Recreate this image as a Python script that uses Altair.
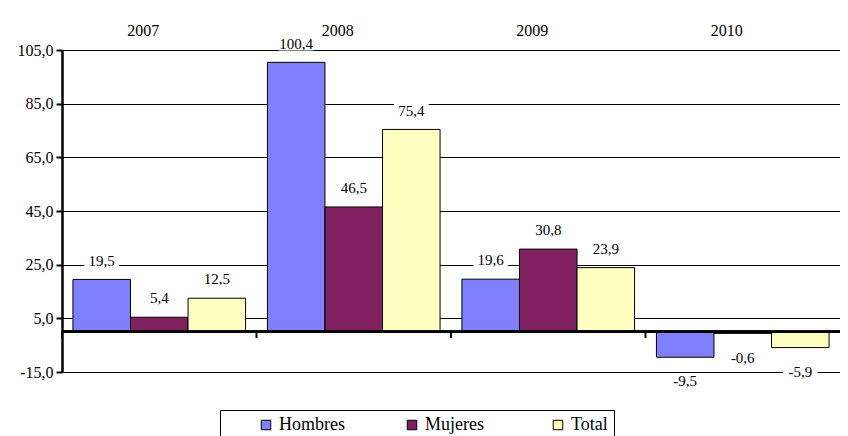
import altair as alt
import pandas as pd

years = ["2007", "2008", "2009", "2010"]
series = ["Hombres", "Mujeres", "Total"]
hombres = [19.5, 100.4, 19.6, -9.5]
mujeres = [5.4, 46.5, 30.8, -0.6]
total = [12.5, 75.4, 23.9, -5.9]
y_ticks = [-15, 5, 25, 45, 65, 85, 105]
colors = ["#8080FF", "#802060", "#FFFFC0"]

rows = []
for i, yr in enumerate(years):
    for s, vals in zip(series, [hombres, mujeres, total]):
        rows.append({"year": yr, "serie": s, "v": vals[i]})
df = pd.DataFrame(rows)
df_years = pd.DataFrame({"year": years})

FONT = "Liberation Serif"
FMT = "replace(replace(format({v},'.1f'),'.',','),'\u2212','-')"

x_enc = alt.X(
    "year:N", sort=years,
    scale=alt.Scale(paddingInner=0, paddingOuter=0),
    axis=alt.Axis(orient="top", title=None, domain=False, ticks=False, labelAngle=0,
                  labelFont=FONT, labelFontSize=16, labelColor="black",
                  labelPadding=20, grid=False),
)
xoff = alt.XOffset("serie:N", sort=series,
                   scale=alt.Scale(paddingOuter=0.19, paddingInner=0))
y_scale = alt.Scale(domain=[-15, 105], nice=False, zero=False)
y_axis = alt.Axis(title=None, values=y_ticks,
                  labelExpr=FMT.format(v="datum.value"),
                  grid=True, gridColor="black", gridWidth=1, gridOpacity=1,
                  domainColor="black", domainWidth=2.5, tickColor="black",
                  tickWidth=2, tickSize=6, labelPadding=3, labelFont=FONT,
                  labelFontSize=16, labelColor="black")

color_enc = alt.Color(
    "serie:N", sort=series,
    scale=alt.Scale(domain=series, range=colors),
    legend=alt.Legend(title=" ", titleOrient="left", titlePadding=31,
                      orient="none", legendX=158, legendY=360,
                      direction="horizontal", symbolType="square",
                      symbolSize=90, symbolStrokeColor="black",
                      symbolStrokeWidth=1, labelFont=FONT, labelFontSize=18,
                      labelColor="black", strokeColor="black", padding=6,
                      columnPadding=58, gridAlign="all", labelOffset=4),
)

base = alt.Chart(df)

bars = base.mark_bar(stroke="black", strokeWidth=1).encode(
    x=x_enc, xOffset=xoff,
    y=alt.Y("v:Q", scale=y_scale, axis=y_axis),
    color=color_enc,
)

lab = base.transform_calculate(
    ly="datum.v >= 0 ? datum.v + 7 : datum.v - 9",
    lab=FMT.format(v="datum.v"),
)

boxes = lab.mark_point(shape="M-1,-0.4H1V0.4H-1Z", filled=True, fill="white",
                       opacity=1, size=1200, strokeWidth=0).encode(
    x=alt.X("year:N", sort=years), xOffset=alt.XOffset("serie:N", sort=series),
    y=alt.Y("ly:Q", scale=y_scale),
)

texts = lab.mark_text(font=FONT, fontSize=15, color="black", baseline="middle").encode(
    x=alt.X("year:N", sort=years), xOffset=alt.XOffset("serie:N", sort=series),
    y=alt.Y("ly:Q", scale=y_scale),
    text="lab:N",
)

zero = alt.Chart(df_years).mark_rule(color="black", strokeWidth=2.5).encode(
    y=alt.datum(0)
)

gticks = alt.Chart(df_years).mark_rule(color="black", strokeWidth=2).encode(
    x=alt.X("year:N", sort=years, bandPosition=0),
    y=alt.datum(0), y2=alt.datum(-2.3),
)

chart = alt.layer(boxes, bars, texts, zero, gticks).properties(
    width=778, height=322,
    autosize=alt.AutoSizeParams(type="none"),
    padding={"left": 54, "top": 42, "right": 0, "bottom": 64},
    background="white",
).configure_view(stroke=None)

chart.save("out.html", embed_options={"renderer": "svg", "actions": False})
